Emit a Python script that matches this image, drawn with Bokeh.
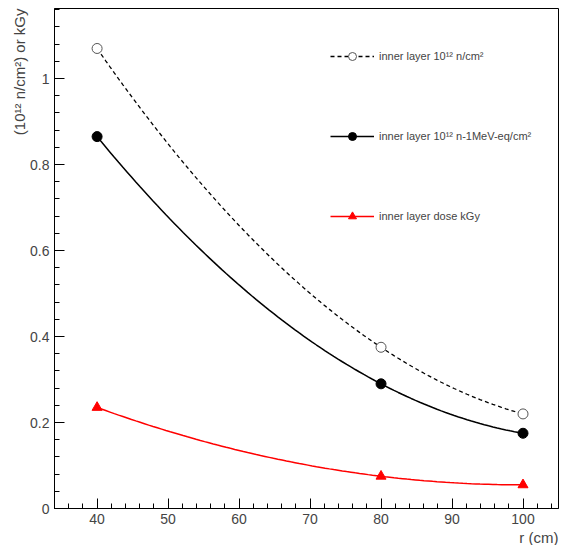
from bokeh.plotting import figure
from bokeh.models import Legend, LegendItem, Range1d, Title
from bokeh.embed import file_html
from bokeh.resources import INLINE
import numpy as np

r = [40, 80, 100]
fluence = [1.07, 0.375, 0.22]
neq = [0.865, 0.29, 0.175]
dose = [0.235, 0.075, 0.055]


def smooth(xs, ys, n=100):
    # quadratic curve through the three points, as the original drawing does
    xx = np.linspace(xs[0], xs[-1], n)
    c = np.polyfit(xs, ys, 2)
    return xx, np.polyval(c, xx)


p = figure(width=562, height=545, output_backend="svg", toolbar_location=None,
           x_range=Range1d(34, 105), y_range=Range1d(0, 1.163),
           min_border_left=54, min_border_right=4, min_border_top=8, min_border_bottom=4)
p.background_fill_color = "white"
p.grid.visible = False
p.outline_line_color = "black"

for ax in (p.xaxis, p.yaxis):
    ax.major_tick_in = 10
    ax.major_tick_out = 0
    ax.minor_tick_in = 5
    ax.minor_tick_out = 0
    ax.major_label_text_font = "Liberation Sans"
    ax.major_label_text_font_size = "14px"
p.xaxis.ticker.desired_num_ticks = 8

p.add_layout(Title(text="r (cm)", align="right", text_font="Liberation Sans",
                   text_font_size="15px", text_font_style="normal", standoff=0), "below")
p.add_layout(Title(text="(10¹² n/cm²) or kGy", align="right", text_font="Liberation Sans",
                   text_font_size="15px", text_font_style="normal", standoff=0), "left")

x1, y1 = smooth(r, fluence)
l1 = p.line(x1, y1, line_color="black", line_dash="4 3", line_width=1.3)
m1 = p.scatter(r, fluence, marker="circle", size=10, fill_color="white", line_color="#555555")
x2, y2 = smooth(r, neq)
l2 = p.line(x2, y2, line_color="black", line_width=1.5)
m2 = p.scatter(r, neq, marker="circle", size=10, color="black")
x3, y3 = smooth(r, dose)
l3 = p.line(x3, y3, line_color="red", line_width=1.5)
m3 = p.scatter(r, dose, marker="triangle", size=10, color="red")

legend = Legend(items=[
    LegendItem(label="inner layer 10¹² n/cm²", renderers=[l1, m1]),
    LegendItem(label="inner layer 10¹² n-1MeV-eq/cm²", renderers=[l2, m2]),
    LegendItem(label="inner layer dose kGy", renderers=[l3, m3]),
], location=(276, 282), padding=0, margin=0, spacing=60, label_height=20,
    glyph_width=44, glyph_height=20, border_line_color=None,
    background_fill_alpha=0, label_text_font="Liberation Sans",
    label_text_font_size="11px")
p.add_layout(legend)

open("out.html", "w").write(file_html(p, INLINE))
